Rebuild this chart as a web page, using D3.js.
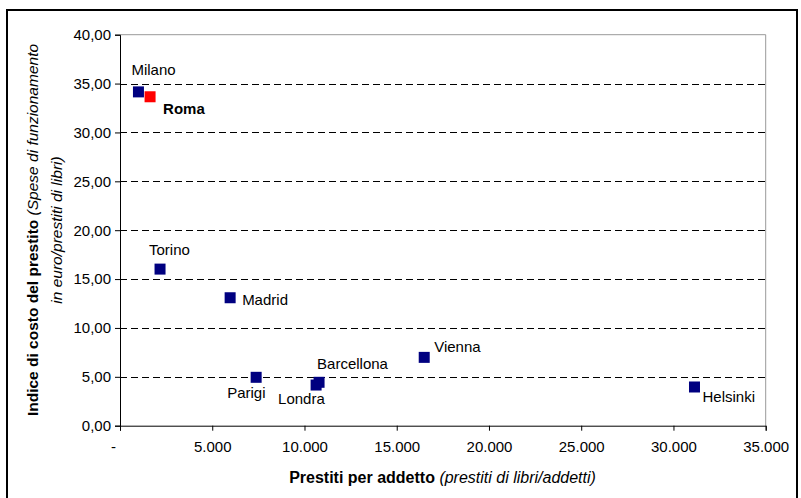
<!DOCTYPE html>
<html><head><meta charset="utf-8">
<script src="https://cdn.jsdelivr.net/npm/d3@7"></script>
<style>body{margin:0;background:#fff}svg{display:block;font-family:"Liberation Sans",Arial,sans-serif}</style>
</head><body><svg id="c" width="801" height="498"></svg>
<script>
const cities = ["Milano","Roma","Torino","Madrid","Parigi","Londra","Barcellona","Vienna","Helsinki"];
const prestitiPerAddetto = [1000,1630,2170,5970,7380,10630,10790,16490,31140];
const indiceCosto = [34.15,33.65,16.02,13.09,4.95,4.16,4.44,6.99,3.96];
const yTicks = [0,5,10,15,20,25,30,35,40];
const xTicks = [0,5000,10000,15000,20000,25000,30000,35000];
// label placement (dx, dy relative to marker centre)
const labelDx = [-7,13,-11,12,-29,-38,-2,10,8];
const labelDy = [-22,12,-19,2,15,14,-19,-11,10];
const highlight = "Roma";

const FS = 15;
const svg = d3.select("#c");
const L=120, R=765.7, T=34.7, B=425.7;
const x = d3.scaleLinear().domain([0,35000]).range([L,R]);
const y = d3.scaleLinear().domain([0,40]).range([B,T]);

svg.append("rect").attr("x",7).attr("y",10).attr("width",790).attr("height",500)
  .attr("fill","none").attr("stroke","#000").attr("stroke-width",2);

svg.append("path").attr("d",`M${L},${T}H${R}V${B}`).attr("fill","none").attr("stroke","#999").attr("stroke-width",1);

svg.append("g").selectAll("line").data(yTicks.filter(v=>v>0&&v<40)).join("line")
  .attr("x1",L).attr("x2",R).attr("y1",d=>Math.round(y(d))+0.5).attr("y2",d=>Math.round(y(d))+0.5)
  .attr("stroke","#000").attr("stroke-width",1).attr("stroke-dasharray","7,4");

const fmtY = v => d3.format(".2f")(v).replace(".",",");
const fmtX = v => v===0 ? "-" : d3.format(",")(v).replace(/,/g,".");

const yAxis = svg.append("g").attr("transform",`translate(${L},0)`)
  .call(d3.axisLeft(y).tickValues(yTicks).tickFormat(fmtY).tickSize(5).tickPadding(4));
const xAxis = svg.append("g").attr("transform",`translate(0,${B})`)
  .call(d3.axisBottom(x).tickValues(xTicks).tickFormat(fmtX).tickSize(5).tickPadding(11));
[yAxis,xAxis].forEach(a=>{
  a.select(".domain").attr("stroke","#000");
  a.selectAll(".tick line").attr("stroke","#000");
  a.selectAll("text").attr("font-size",FS).attr("fill","#000").attr("font-family","Liberation Sans, Arial, sans-serif");
});
xAxis.selectAll(".tick").filter(d=>d===0).select("text").attr("dx",-7);

const data = cities.map((c,i)=>({c,x:prestitiPerAddetto[i],y:indiceCosto[i],dx:labelDx[i],dy:labelDy[i]}));
const s = 11;
svg.append("g").selectAll("rect").data(data).join("rect")
  .attr("x",d=>x(d.x)-s/2).attr("y",d=>y(d.y)-s/2).attr("width",s).attr("height",s)
  .attr("fill",d=>d.c===highlight?"#ff0000":"#000080");

svg.append("g").selectAll("text").data(data).join("text")
  .attr("x",d=>x(d.x)+d.dx).attr("y",d=>y(d.y)+d.dy).attr("dy","0.35em")
  .attr("font-size",FS).attr("font-weight",d=>d.c===highlight?"bold":"normal").text(d=>d.c);

const xt = svg.append("text").attr("x",442.5).attr("y",477).attr("dy","0.35em").attr("text-anchor","middle").attr("font-size",16);
xt.append("tspan").attr("font-weight","bold").text("Prestiti per addetto ");
xt.append("tspan").attr("font-style","italic").text("(prestiti di libri/addetti)");

const yt = svg.append("text").attr("transform","translate(33,230) rotate(-90)").attr("dy","0.35em").attr("text-anchor","middle").attr("font-size",15.5);
yt.append("tspan").attr("font-weight","bold").text("Indice di costo del prestito ");
yt.append("tspan").attr("font-style","italic").text("(Spese di funzionamento");
svg.append("text").attr("transform","translate(57,230) rotate(-90)").attr("dy","0.35em").attr("text-anchor","middle")
  .attr("font-size",15.5).attr("font-style","italic").text("in euro/prestiti di libri)");
</script></body></html>
